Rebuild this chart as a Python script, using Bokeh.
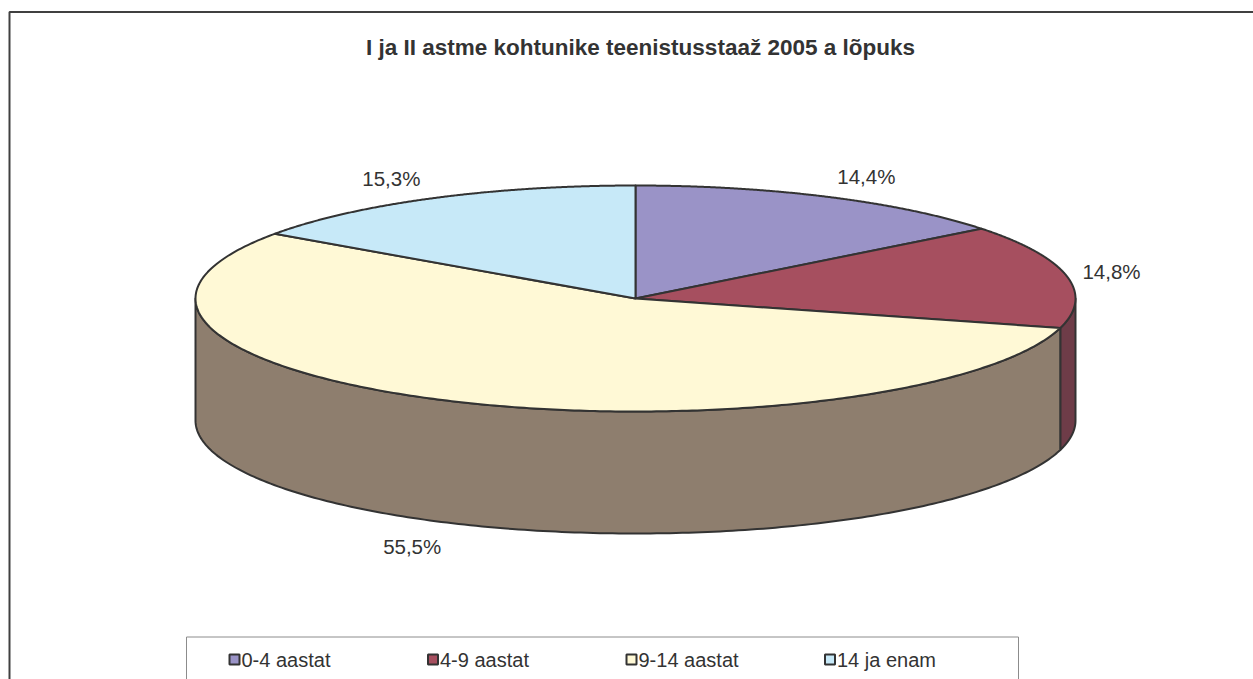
import numpy as np
from bokeh.plotting import figure
from bokeh.models import Range1d, BoxAnnotation
from bokeh.core.properties import value
from bokeh.embed import file_html
from bokeh.resources import INLINE

# ---- data ----
title = "I ja II astme kohtunike teenistusstaaž 2005 a lõpuks"
categories = ["0-4 aastat", "4-9 aastat", "9-14 aastat", "14 ja enam"]
shares = [14.4, 14.8, 55.5, 15.3]
labels = ["14,4%", "14,8%", "55,5%", "15,3%"]

# ---- style ----
top_colors = ["#9A93C7", "#A64F5F", "#FFF9D6", "#C7E9F8"]
side_colors = ["#5E5A7C", "#6E3C48", "#8E7E6E", "#7D929C"]
edge = "#333333"
FONT = "Liberation Sans"

W, H = 1253, 679
X0, Y0 = 0, 0
p = figure(width=W, height=H, output_backend="svg", toolbar_location=None,
           x_range=Range1d(X0, X0 + W), y_range=Range1d(Y0 + H, Y0),
           min_border=0, outline_line_color=None)
p.axis.visible = False
p.grid.visible = False
p.background_fill_color = "white"
p.border_fill_color = "white"

# outer chart frame (top & left edges visible)
p.add_layout(BoxAnnotation(left=9, top=11.5, right=1400, bottom=900,
                           fill_alpha=0, line_color="#404040", line_alpha=1.0,
                           line_width=2))

# pie geometry (screen-like coordinates, y downward)
CX, CY, RX, RY, DEPTH = 635, 298, 440, 113, 122

def pt(theta, dy=0.0):
    return CX + RX * np.sin(theta), CY - RY * np.cos(theta) + dy

frac = np.array(shares) / np.sum(shares)
bounds = np.concatenate([[0], np.cumsum(frac)]) * 2 * np.pi

# side faces (front half only: pi/2 .. 3pi/2)
sx, sy, sc = [], [], []
for i in range(len(shares)):
    a, b = max(bounds[i], np.pi / 2), min(bounds[i + 1], 3 * np.pi / 2)
    if b > a:
        t = np.linspace(a, b, 200)
        xt, yt = pt(t)
        xb, yb = pt(t[::-1], DEPTH)
        sx.append(list(np.concatenate([xt, xb])))
        sy.append(list(np.concatenate([yt, yb])))
        sc.append(side_colors[i])
p.patches(sx, sy, fill_color=sc, line_color=edge, line_width=2, line_join="round")

# top faces
tx, ty = [], []
for i in range(len(shares)):
    t = np.linspace(bounds[i], bounds[i + 1], 300)
    xa, ya = pt(t)
    tx.append([CX] + list(xa))
    ty.append([CY] + list(ya))
p.patches(tx, ty, fill_color=top_colors, line_color=edge, line_width=2, line_join="round")

# data labels
lx, ly = [], []
for i in range(len(shares)):
    m = (bounds[i] + bounds[i + 1]) / 2
    x, y = pt(m)
    x = CX + (x - CX) * 1.2
    y = CY + (y - CY) * 1.2 + (DEPTH + 3 if np.cos(m) < 0 else 0)
    x = min(x, 1111)
    lx.append(x)
    ly.append(y)
p.text(lx, ly, text=labels, text_font=value(FONT), text_font_size="20.5px",
       text_align="center", text_baseline="middle", text_color="#333333")

# title
p.text([640], [47], text=[title], text_font=value(FONT), text_font_size="22.5px",
       text_font_style="bold", text_align="center", text_baseline="middle",
       text_color="#333333")

# legend
p.add_layout(BoxAnnotation(left=186, top=636.5, right=1018, bottom=900,
                           fill_alpha=0, line_color="#8c8c8c", line_alpha=1.0,
                           line_width=1))
leg_x = [234 + 198.5 * i for i in range(len(categories))]
leg_y = [659] * len(categories)
p.rect(leg_x, leg_y, width=10, height=10, fill_color=top_colors,
       line_color=edge, line_width=2)
p.text([x + 7 for x in leg_x], leg_y, text=categories, text_font=value(FONT),
       text_font_size="20px", text_align="left", text_baseline="middle",
       text_color="#333333")

open("out.html", "w").write(file_html(p, INLINE))
